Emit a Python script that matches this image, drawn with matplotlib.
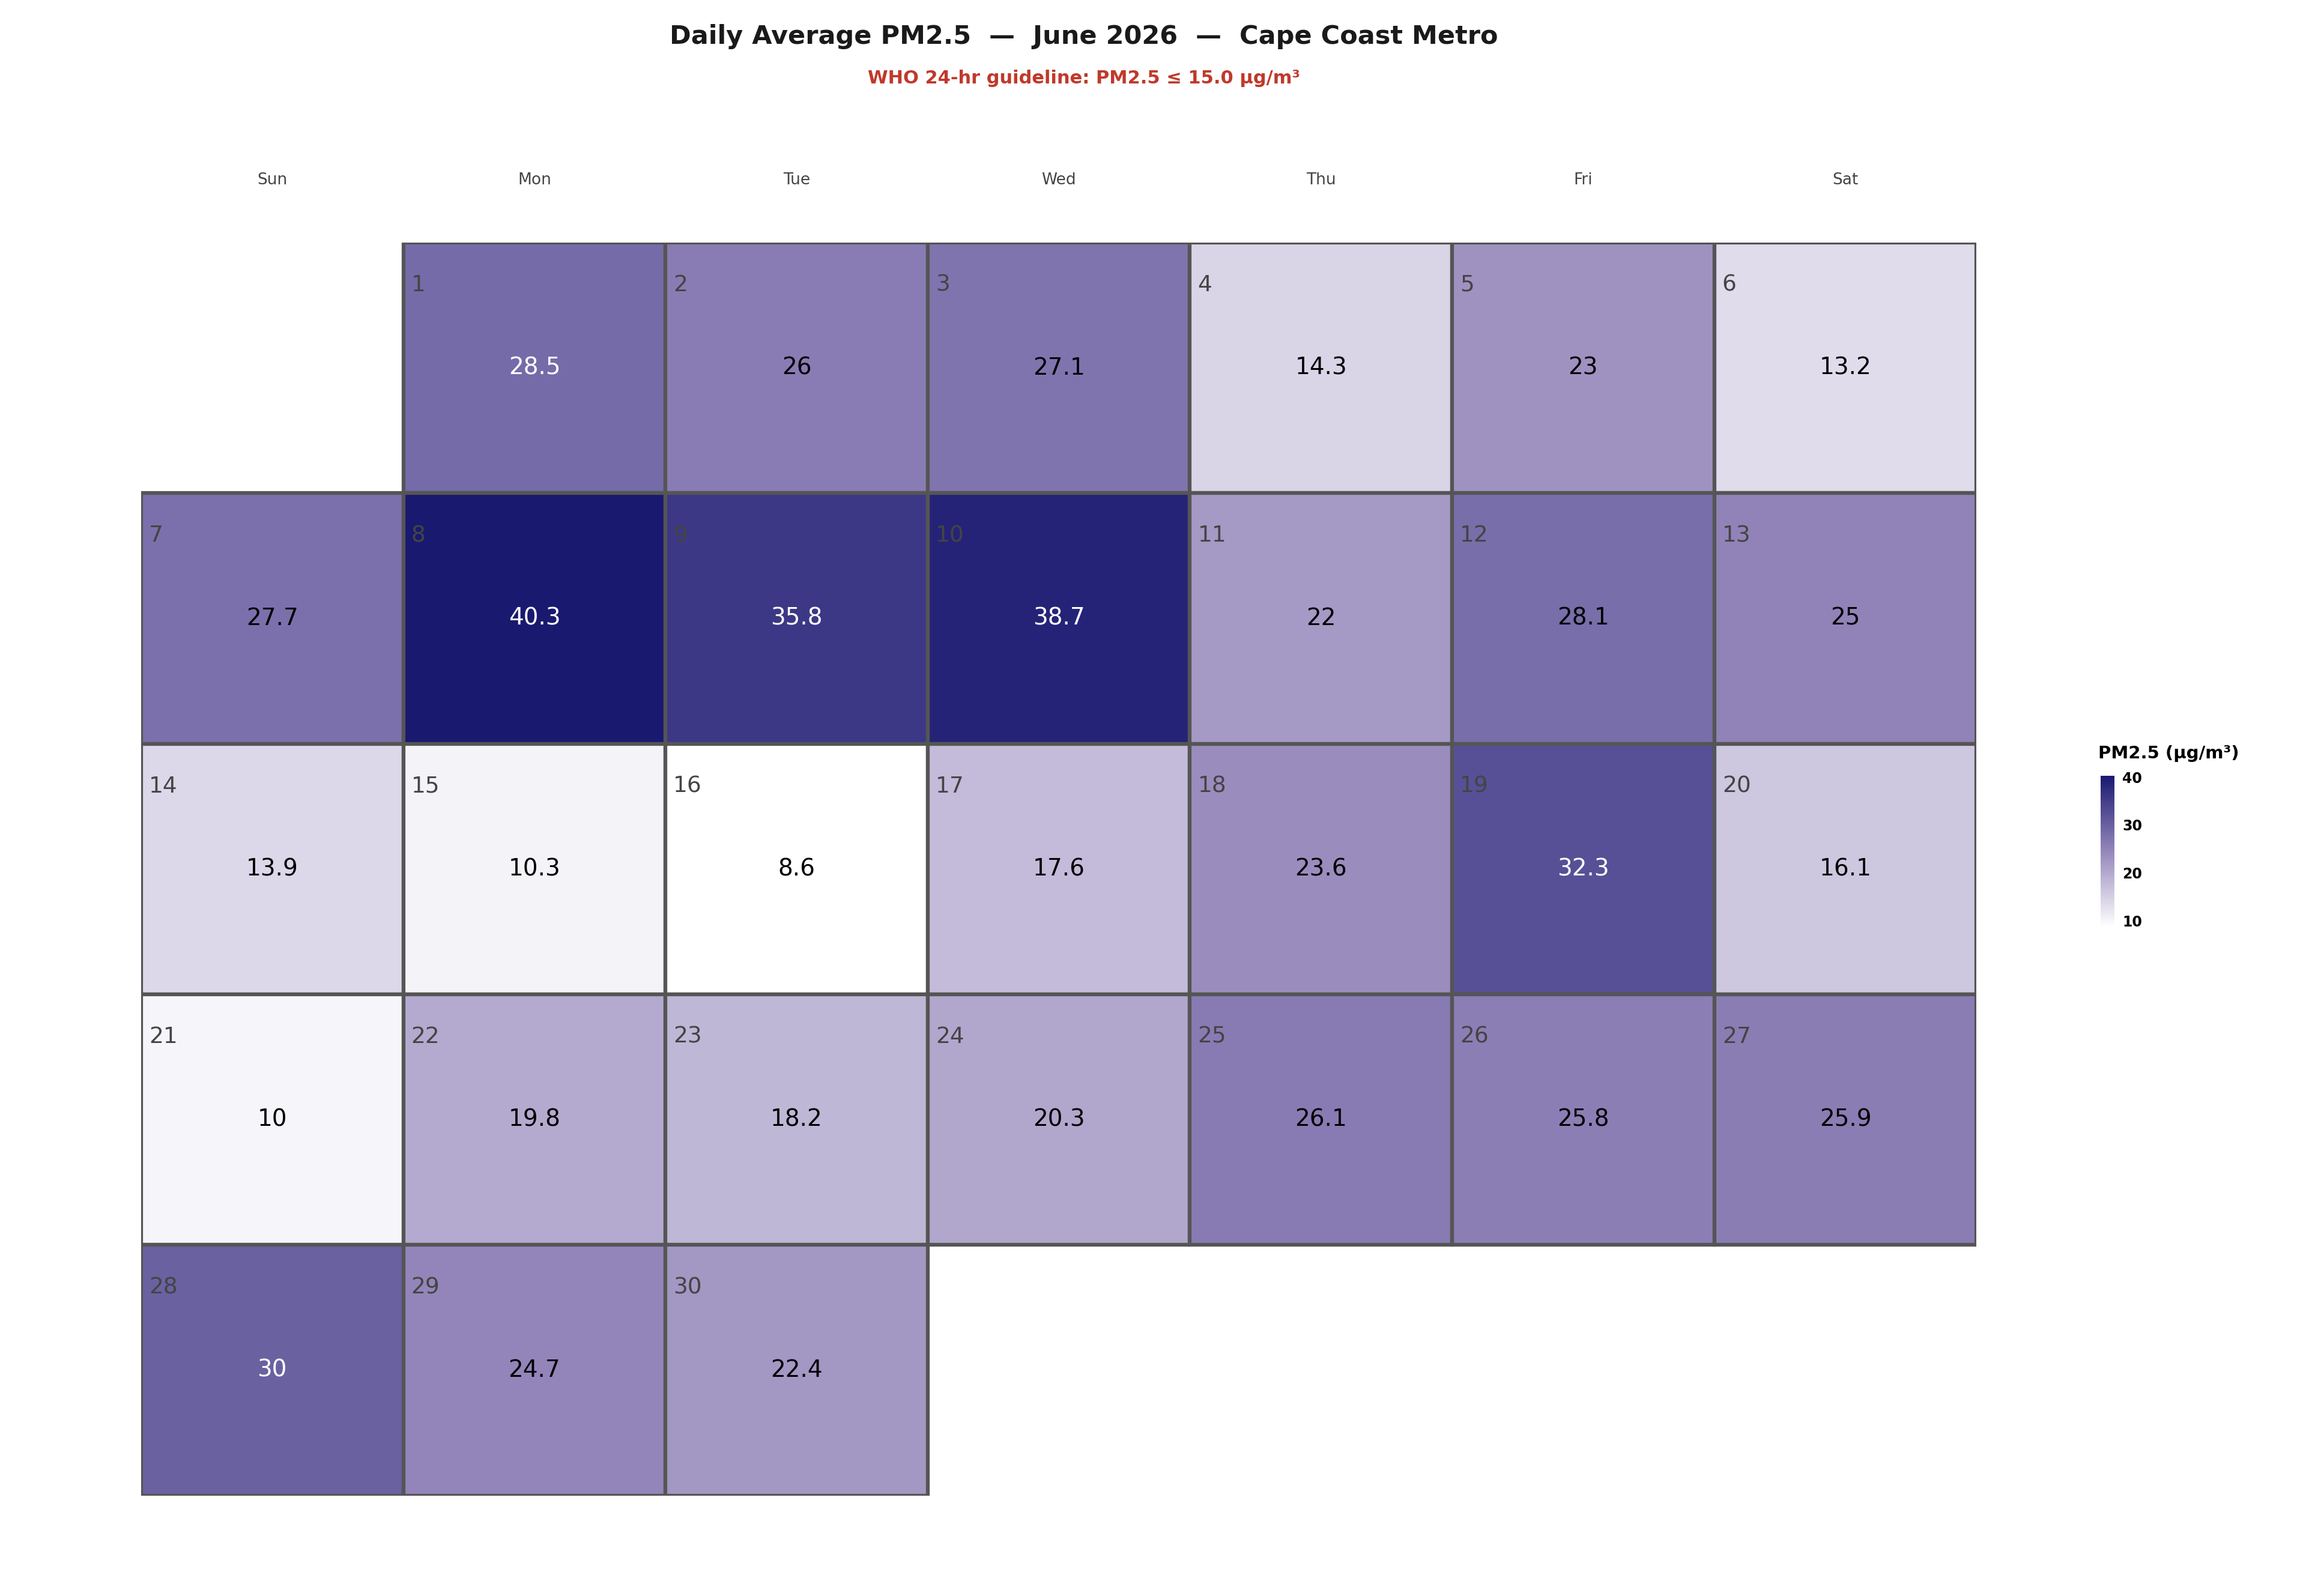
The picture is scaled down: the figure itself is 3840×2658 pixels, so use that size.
import matplotlib
matplotlib.use("Agg")
import matplotlib.pyplot as plt
from matplotlib.colors import LinearSegmentedColormap, Normalize
from matplotlib.patches import Rectangle
import datetime

days = list(range(1, 31))
values = [28.5, 26, 27.1, 14.3, 23, 13.2, 27.7, 40.3, 35.8, 38.7, 22, 28.1, 25,
          13.9, 10.3, 8.6, 17.6, 23.6, 32.3, 16.1, 10, 19.8, 18.2, 20.3, 26.1, 25.8, 25.9,
          30, 24.7, 22.4]
weekdays = ["Sun", "Mon", "Tue", "Wed", "Thu", "Fri", "Sat"]
cbar_ticks = [10, 20, 30, 40]

cmap = LinearSegmentedColormap.from_list("pm", ["#ffffff", "#9587bb", "#191970"])
norm = Normalize(vmin=min(values), vmax=max(values))

fig = plt.figure(figsize=(38.4, 26.58), dpi=100)
ax = fig.add_axes([0.0612, 0.063, 0.7959, 0.785])
ax.set_xlim(0, 7)
ax.set_ylim(5, 0)
ax.axis("off")

first_col = (datetime.date(2026, 6, 1).weekday() + 1) % 7
for d, v in zip(days, values):
    idx = first_col + d - 1
    c, r = idx % 7, idx // 7
    ax.add_patch(Rectangle((c, r), 1, 1, facecolor=cmap(norm(v)),
                           edgecolor="#555555", linewidth=4.5))
    ax.text(c + 0.03, r + 0.17, str(d), fontsize=27, color="#444444",
            ha="left", va="center")
    ax.text(c + 0.5, r + 0.5, f"{v:g}", fontsize=28,
            color="white" if v > 28.2 else "black", ha="center", va="center")

for i, w in enumerate(weekdays):
    ax.text(i + 0.5, -0.25, w, fontsize=19, color="#444444", ha="center",
            va="center", clip_on=False)

fig.text(0.47, 0.977, "Daily Average PM2.5  —  June 2026  —  Cape Coast Metro",
         fontsize=31, fontweight="bold", color="#1a1a1a", ha="center", va="center")
fig.text(0.47, 0.951, "WHO 24-hr guideline: PM2.5 ≤ 15.0 µg/m³",
         fontsize=22, fontweight="bold", color="#c0392b", ha="center", va="center")

cax = fig.add_axes([0.911, 0.419, 0.006, 0.095])
sm = plt.cm.ScalarMappable(norm=norm, cmap=cmap)
cb = fig.colorbar(sm, cax=cax, ticks=cbar_ticks)
cb.outline.set_visible(False)
cax.tick_params(labelsize=17, length=6, color="white")
for t in cax.get_yticklabels():
    t.set_fontweight("bold")
fig.text(0.910, 0.528, "PM2.5 (µg/m³)", fontsize=21, fontweight="bold",
         ha="left", va="center")

fig.savefig("out.png", dpi=100, facecolor="white")
